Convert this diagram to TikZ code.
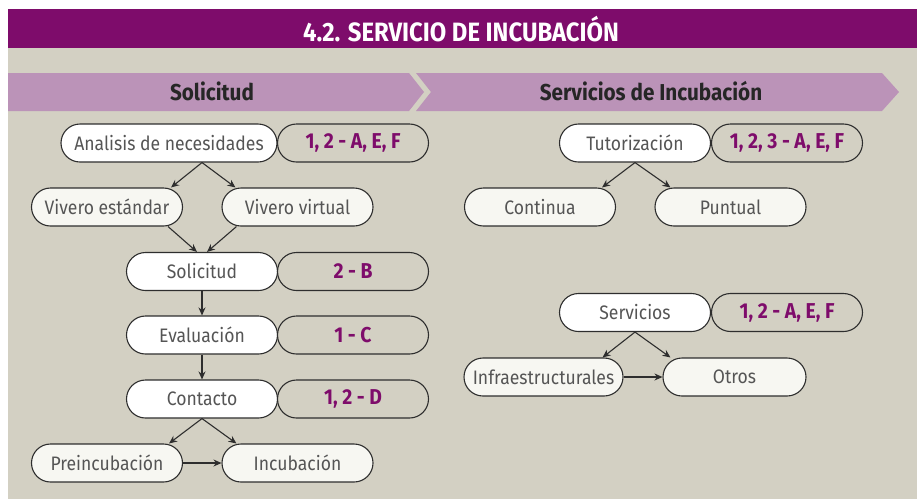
\documentclass[tikz,border=0pt]{standalone}
\usepackage{fontspec}
\setmainfont{Fira Sans}[FakeStretch=0.9]
\usetikzlibrary{
    arrows.meta,
    positioning
}

\definecolor{barpurple}{HTML}{7E0C6B}
\definecolor{bgbeige}{HTML}{D3D0C3}
\definecolor{chevlilac}{HTML}{BB93B8}
\definecolor{txtgray}{HTML}{555555}
\definecolor{offwhite}{HTML}{F7F7F2}
\definecolor{edgegray}{HTML}{2E2E2E}

\tikzset{
    stage/.style={draw=edgegray, line width=1.1pt, fill=white,
        rounded corners=19pt, minimum height=38pt, minimum width=151pt,
        inner sep=0pt, text=txtgray, font=\fontsize{19.5}{19.5}\selectfont},
    branch/.style={stage, fill=offwhite},
    tag/.style={stage, fill=bgbeige, text=barpurple,
        font=\fontsize{21.5}{21.5}\selectfont\bfseries},
    flow/.style={-{Stealth[length=8pt,width=7pt]}, line width=1.1pt,
        draw=edgegray}
}

\begin{document}
\begin{tikzpicture}[x=1pt,y=-1pt]

\useasboundingbox (0,0) rectangle (917,499);

% Background
\fill[bgbeige] (8,48) rectangle (917,499);
\fill[barpurple] (8,9) rectangle (917,48);
\node[text=white, font=\fontsize{26.5}{26.5}\selectfont\bfseries] (title)
    at (461,29.5) {4.2. SERVICIO DE INCUBACIÓN};

% Chevrons
\fill[chevlilac] (8,73)--(409,73)--(424,92)--(409,111)--(8,111)--cycle;
\fill[chevlilac] (416,73)--(882,73)--(899,92)--(882,111)--(416,111)--
    (431,92)--cycle;
\node[text=black!85, font=\fontsize{23}{23}\selectfont\bfseries] (hsol)
    at (212,91) {Solicitud};
\node[text=black!85, font=\fontsize{23}{23}\selectfont\bfseries] (hserv)
    at (651,91) {Servicios de Incubación};

% Solicitud
\node[stage, minimum width=216pt] (ana) at (169,143) {Analisis de necesidades};
\node[tag] (tagA) at (353,143) {1, 2 - A, E, F};
\node[branch] (vstd) at (107,207) {Vivero estándar};
\node[branch] (vvir) at (297.5,207) {Vivero virtual};
\node[stage] (sol) at (202,271.5) {Solicitud};
\node[tag] (tagB) at (353,271.5) {2 - B};
\node[stage] (eva) at (202,335) {Evaluación};
\node[tag] (tagC) at (353,335) {1 - C};
\node[stage] (con) at (202,399) {Contacto};
\node[tag] (tagD) at (353,399) {1, 2 - D};
\node[branch] (pre) at (107,463) {Preincubación};
\node[branch] (inc) at (297.5,463) {Incubación};

\draw[flow] (sol.north |- ana.south) -- ([xshift=-12pt]vstd.north east);
\draw[flow] (sol.north |- ana.south) -- ([xshift=14pt]vvir.north west);
\draw[flow] ([xshift=-15pt]vstd.south east) -- ([xshift=-5pt]sol.north);
\draw[flow] ([xshift=15pt]vvir.south west) -- ([xshift=5pt]sol.north);
\draw[flow] (sol) -- (eva);
\draw[flow] (eva) -- (con);
\draw[flow] (con.south) -- ([xshift=-14pt]pre.north east);
\draw[flow] (con.south) -- ([xshift=15pt]inc.north west);
\draw[flow] (pre) -- (inc);

% Servicios de Incubacion
\node[stage] (tut) at (635,143) {Tutorización};
\node[tag] (tagT) at (787,143) {1, 2, 3 - A, E, F};
\node[branch] (cont) at (540,207) {Continua};
\node[branch] (punt) at (730.5,207) {Puntual};
\node[stage] (serv) at (635,312.5) {Servicios};
\node[tag] (tagS) at (787,312.5) {1, 2 - A, E, F};
\node[branch, minimum width=159pt] (infra) at (543.5,377) {Infraestructurales};
\node[branch, minimum width=143pt] (otros) at (734.5,377) {Otros};

\draw[flow] (tut.south) -- ([xshift=-14pt]cont.north east);
\draw[flow] (tut.south) -- ([xshift=16pt]punt.north west);
\draw[flow] (serv.south) -- ([xshift=-21pt]infra.north east);
\draw[flow] (serv.south) -- ([xshift=8pt]otros.north west);
\draw[flow] (infra) -- (otros);

\end{tikzpicture}
\end{document}
